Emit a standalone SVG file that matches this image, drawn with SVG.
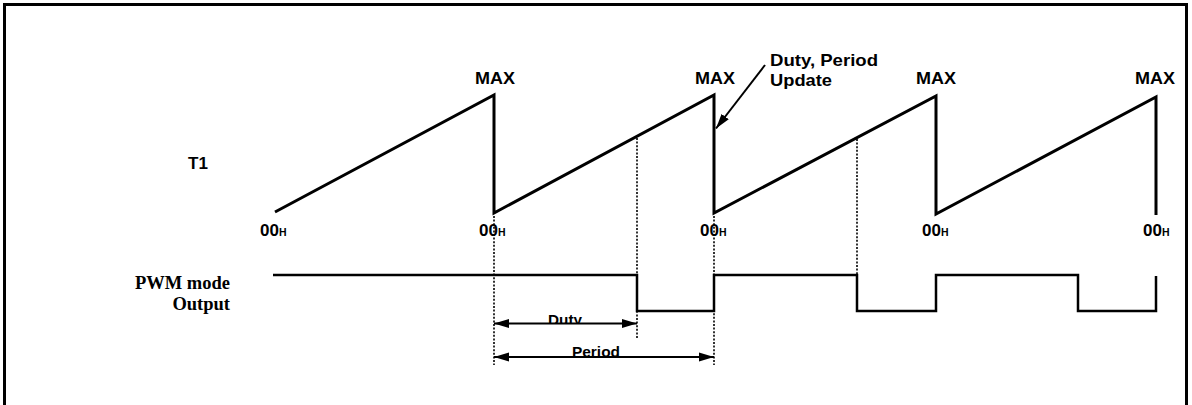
<svg xmlns="http://www.w3.org/2000/svg" width="1192" height="405" viewBox="0 0 1192 405">
  <style>
    .wave { fill: none; stroke: #000; stroke-width: 3; stroke-linejoin: miter; }
    .pwm { fill: none; stroke: #000; stroke-width: 2.5; stroke-linejoin: miter; }
    .guide { fill: none; stroke: #000; stroke-width: 1.6; stroke-dasharray: 2 1.6; }
    .dim { fill: none; stroke: #000; stroke-width: 2; }
    .lbl { font-family: "Liberation Sans", Arial, sans-serif; font-weight: bold; font-size: 17px; fill: #000; }
    .sub { font-size: 10.5px; }
    .dimlbl { font-family: "Liberation Sans", Arial, sans-serif; font-weight: bold; font-size: 15.5px; fill: #000; }
    .serif { font-family: "Liberation Serif", "Times New Roman", serif; font-weight: bold; font-size: 18.5px; fill: #000; text-anchor: end; }
  </style>
  <defs>
    <marker id="ah" viewBox="0 0 15 10" refX="15" refY="5" markerWidth="15" markerHeight="10" markerUnits="userSpaceOnUse" orient="auto-start-reverse">
      <path d="M0,0.5 L15,5 L0,9.5 Z" fill="#000"/>
    </marker>
    <clipPath id="clipDuty"><rect x="530" y="300" width="120" height="23"/></clipPath>
    <clipPath id="clipPeriod"><rect x="550" y="335" width="120" height="21.5"/></clipPath>
  </defs>

  <rect id="frame" x="4.5" y="4.5" width="1182" height="500" fill="#fff" stroke="#000" stroke-width="3"/>

  <g id="t1-signal">
    <text class="lbl" x="188" y="169">T1</text>
    <path class="wave" d="M275,212 L494,95 L494,213 L714,95 L714,213 L936,96 L936,214 L1156,97 L1156,215"/>
  </g>

  <g id="max-labels">
    <text class="lbl" x="475" y="83.5" textLength="40" lengthAdjust="spacingAndGlyphs">MAX</text>
    <text class="lbl" x="695" y="83.5" textLength="40" lengthAdjust="spacingAndGlyphs">MAX</text>
    <text class="lbl" x="916" y="83.5" textLength="40" lengthAdjust="spacingAndGlyphs">MAX</text>
    <text class="lbl" x="1135" y="83.5" textLength="40" lengthAdjust="spacingAndGlyphs">MAX</text>
  </g>

  <g id="zero-labels">
    <text class="lbl" x="260" y="236">00<tspan class="sub">H</tspan></text>
    <text class="lbl" x="479" y="236">00<tspan class="sub">H</tspan></text>
    <text class="lbl" x="700" y="236">00<tspan class="sub">H</tspan></text>
    <text class="lbl" x="922" y="236">00<tspan class="sub">H</tspan></text>
    <text class="lbl" x="1143" y="236">00<tspan class="sub">H</tspan></text>
  </g>

  <g id="update-note">
    <text class="lbl" x="770" y="65.5" textLength="108" lengthAdjust="spacingAndGlyphs">Duty, Period</text>
    <text class="lbl" x="770" y="86" textLength="62" lengthAdjust="spacingAndGlyphs">Update</text>
  </g>

  <g id="pwm-output">
    <text class="serif" x="230" y="288.5">PWM mode</text>
    <text class="serif" x="230" y="309.5">Output</text>
    <path class="pwm" d="M273,275 H637 V311 H714 V275 H857 V311 H936 V275 H1078 V311 H1156 V276"/>
  </g>

  <g id="connectors">
    <line class="guide" x1="494" y1="216" x2="494" y2="365"/>
    <line class="guide" x1="637" y1="138" x2="637" y2="338"/>
    <line class="guide" x1="714" y1="216" x2="714" y2="365"/>
    <line class="guide" x1="857" y1="139" x2="857" y2="275"/>
    <line class="dim" x1="765" y1="65" x2="716" y2="128.5" marker-end="url(#ah)"/>
    <line class="dim" x1="494" y1="323.5" x2="637" y2="323.5" marker-start="url(#ah)" marker-end="url(#ah)"/>
    <line class="dim" x1="494" y1="357" x2="714" y2="357" marker-start="url(#ah)" marker-end="url(#ah)"/>
  </g>

  <g id="dim-labels">
    <text class="dimlbl" x="548" y="325" clip-path="url(#clipDuty)" textLength="34" lengthAdjust="spacingAndGlyphs">Duty</text>
    <text class="dimlbl" x="572" y="356.5" clip-path="url(#clipPeriod)" textLength="48" lengthAdjust="spacingAndGlyphs">Period</text>
  </g>
</svg>
